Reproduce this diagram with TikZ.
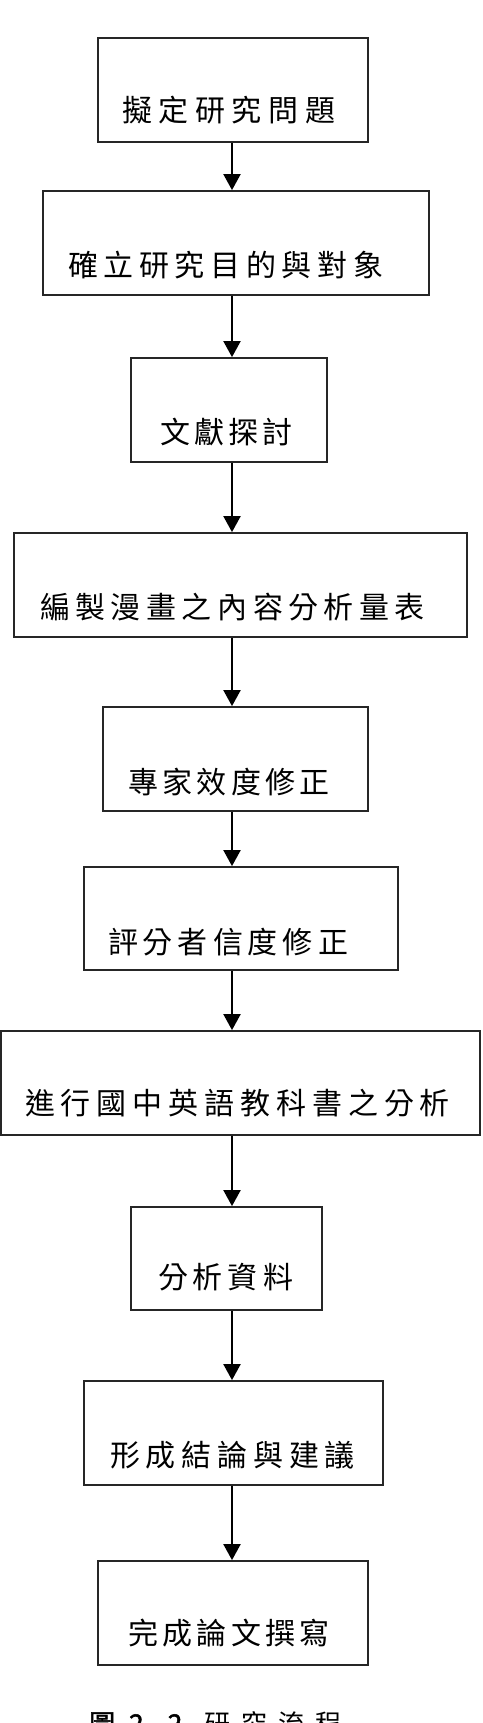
\documentclass[tikz,border=0pt]{standalone}
\usepackage{fontspec}
\newfontfamily\cjk{Noto Sans CJK TC}
\newfontfamily\cjkb{Noto Sans CJK TC}[FakeBold=2]
\usetikzlibrary{arrows.meta}
\def\ilv#1#2\relax{#1\if\relax\detokenize{#2}\relax\else\hfil\ilv#2\relax\fi}
\newcommand\spr[2]{\makebox[#1pt][s]{\ilv#2\relax}}
\tikzset{
  stepbox/.style={draw=black!85, line width=1.8pt, rectangle, inner sep=0pt},
  lbl/.style={inner sep=0pt, font=\cjk\fontsize{30}{36}\selectfont},
  arr/.style={draw=black, line width=2pt, -{Triangle[width=17pt,length=16pt]}}
}
\begin{document}
\begin{tikzpicture}[x=1pt,y=-1pt]
\useasboundingbox (0,0) rectangle (482,1723);
\coordinate (ax) at (232,0);
% boxes
\node[stepbox, minimum width=270pt, minimum height=104pt] (b1) at (233,90) {};
\node[stepbox, minimum width=386pt, minimum height=104pt] (b2) at (236,243) {};
\node[stepbox, minimum width=196pt, minimum height=104pt] (b3) at (229,410) {};
\node[stepbox, minimum width=453pt, minimum height=104pt] (b4) at (240.5,585) {};
\node[stepbox, minimum width=265pt, minimum height=104pt] (b5) at (235.5,759) {};
\node[stepbox, minimum width=314pt, minimum height=103pt] (b6) at (241,918.5) {};
\node[stepbox, minimum width=479pt, minimum height=104pt] (b7) at (240.5,1083) {};
\node[stepbox, minimum width=191pt, minimum height=103pt] (b8) at (226.5,1258.5) {};
\node[stepbox, minimum width=299pt, minimum height=104pt] (b9) at (233.5,1433) {};
\node[stepbox, minimum width=270pt, minimum height=104pt] (b10) at (233,1613) {};
% labels
\node[lbl] (t1) at (228.5,110) {\spr{213}{擬定研究問題}};
\node[lbl] (t2) at (225.5,265) {\spr{315}{確立研究目的與對象}};
\node[lbl] (t3) at (226.5,432) {\spr{133}{文獻探討}};
\node[lbl] (t4) at (232.5,607) {\spr{385}{編製漫畫之內容分析量表}};
\node[lbl] (t5) at (229,782) {\spr{202}{專家效度修正}};
\node[lbl] (t6) at (228,942) {\spr{240}{評分者信度修正}};
\node[lbl] (t7) at (237.5,1103) {\spr{425}{進行國中英語教科書之分析}};
\node[lbl] (t8) at (225.5,1277) {\spr{135}{分析資料}};
\node[lbl] (t9) at (232.5,1455) {\spr{245}{形成結論與建議}};
\node[lbl] (t10) at (229,1633) {\spr{202}{完成論文撰寫}};
% arrows
\draw[arr] (b1.south -| ax) -- (b2.north -| ax);
\draw[arr] (b2.south -| ax) -- (b3.north -| ax);
\draw[arr] (b3.south -| ax) -- (b4.north -| ax);
\draw[arr] (b4.south -| ax) -- (b5.north -| ax);
\draw[arr] (b5.south -| ax) -- (b6.north -| ax);
\draw[arr] (b6.south -| ax) -- (b7.north -| ax);
\draw[arr] (b7.south -| ax) -- (b8.north -| ax);
\draw[arr] (b8.south -| ax) -- (b9.north -| ax);
\draw[arr] (b9.south -| ax) -- (b10.north -| ax);
% caption (cut by page edge)
\node[anchor=north west, inner sep=0pt, font=\fontsize{26}{32}\selectfont] (cap) at (89,1711)
  {{\cjkb 圖\hspace{14pt}2\hspace{8pt}.\hspace{9pt}2}\hspace{22pt}{\cjk\spr{137}{研究流程}}};
\end{tikzpicture}
\end{document}
